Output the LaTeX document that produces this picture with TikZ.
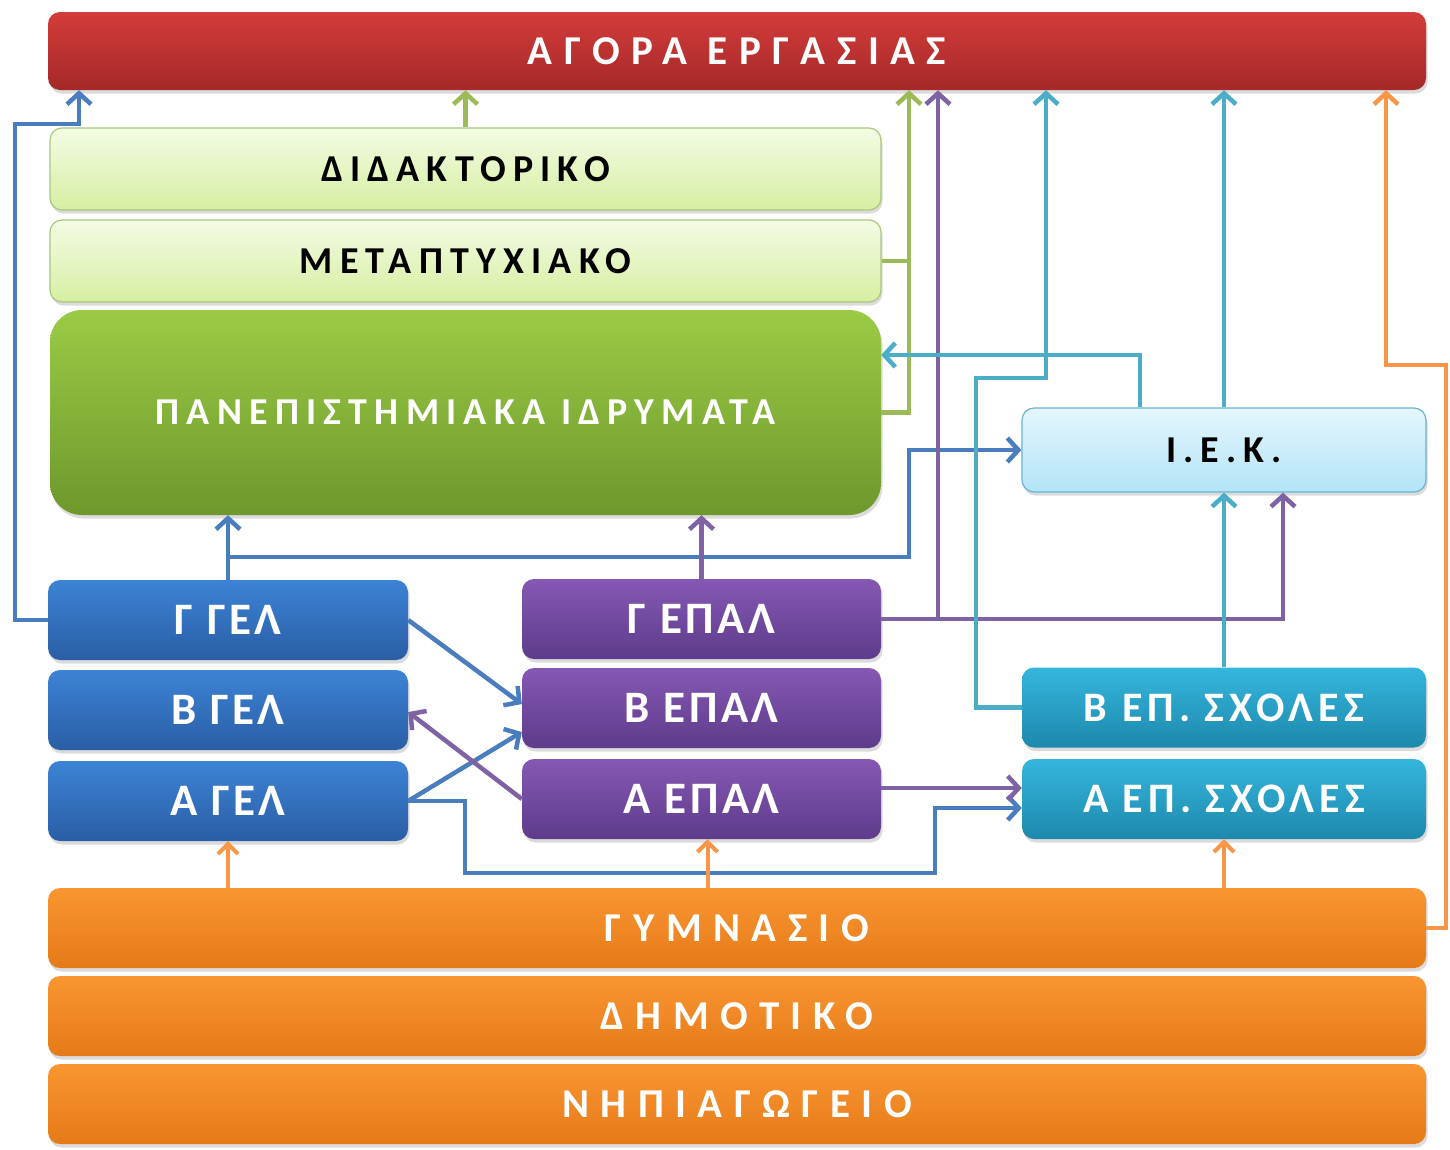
\documentclass[tikz,border=0pt]{standalone}
\usepackage{fontspec}
\setmainfont{Carlito}
\usetikzlibrary{arrows.meta,shadows}

\definecolor{redT}{HTML}{D33C3A}
\definecolor{redB}{HTML}{A52828}
\definecolor{lgT}{HTML}{F4FBE4}
\definecolor{lgB}{HTML}{D6EFA2}
\definecolor{lgD}{HTML}{A9C77C}
\definecolor{gnT}{HTML}{9BCB45}
\definecolor{gnB}{HTML}{6E982C}
\definecolor{lbT}{HTML}{E4F6FD}
\definecolor{lbB}{HTML}{B3E4F7}
\definecolor{lbD}{HTML}{6AB3D2}
\definecolor{blT}{HTML}{3C83D5}
\definecolor{blB}{HTML}{2A5EA5}
\definecolor{puT}{HTML}{8558B3}
\definecolor{puB}{HTML}{5E3B8B}
\definecolor{teT}{HTML}{35B6DD}
\definecolor{teB}{HTML}{1D88AC}
\definecolor{orT}{HTML}{F99632}
\definecolor{orB}{HTML}{E57A18}
\definecolor{cB}{HTML}{4A7DBE}
\definecolor{cG}{HTML}{9BBB59}
\definecolor{cP}{HTML}{7E62A4}
\definecolor{cT}{HTML}{4BADC8}
\definecolor{cO}{HTML}{F79646}

\begin{document}
\begin{tikzpicture}[x=1pt,y=-1pt,
  box/.style={rectangle, rounded corners=12pt, inner sep=0pt, align=center,
    drop shadow={opacity=0.28, shadow xshift=1.5pt, shadow yshift=-3.5pt}},
  redbox/.style={box, top color=redT, bottom color=redB, text=white},
  lgbox/.style={box, top color=lgT, bottom color=lgB, draw=lgD, line width=1.2pt, text=black},
  gnbox/.style={box, rounded corners=32pt, top color=gnT, bottom color=gnB, text=white},
  lbbox/.style={box, top color=lbT, bottom color=lbB, draw=lbD, line width=1.2pt, text=black},
  blbox/.style={box, top color=blT, bottom color=blB, text=white},
  pubox/.style={box, top color=puT, bottom color=puB, text=white},
  tebox/.style={box, top color=teT, bottom color=teB, text=white},
  orbox/.style={box, top color=orT, bottom color=orB, text=white},
  fwide/.style={font=\fontsize{41}{45}\selectfont\bfseries\addfontfeatures{LetterSpace=28}},
  fmid/.style={font=\fontsize{38}{42}\selectfont\bfseries\addfontfeatures{LetterSpace=19}},
  fgel/.style={font=\fontsize{45}{48}\selectfont\bfseries\addfontfeatures{LetterSpace=8}},
  fsx/.style={font=\fontsize{42}{46}\selectfont\bfseries\addfontfeatures{LetterSpace=12}},
  conn/.style={line width=4.5pt, line join=miter,
    -{Straight Barb[length=11pt,width=24pt]}},
  plain/.style={line width=4.5pt, line join=miter},
  small/.style={line width=4pt, -{Straight Barb[length=10pt,width=20pt]}}
]
\useasboundingbox (0,0) rectangle (1450,1149);
\fill[white] (0,0) rectangle (1450,1149);

% ---------- boxes ----------
\node[redbox, fwide, minimum width=1378pt, minimum height=78pt] (agora) at (737,51) {ΑΓΟΡΑ ΕΡΓΑΣΙΑΣ};
\node[lgbox, fmid, minimum width=831pt, minimum height=82pt] (didak) at (465.5,169) {ΔΙΔΑΚΤΟΡΙΚΟ};
\node[lgbox, fmid, minimum width=831pt, minimum height=82pt] (meta) at (465.5,261) {ΜΕΤΑΠΤΥΧΙΑΚΟ};
\node[gnbox, fmid, minimum width=831pt, minimum height=205pt] (panep) at (465.5,412.5) {ΠΑΝΕΠΙΣΤΗΜΙΑΚΑ ΙΔΡΥΜΑΤΑ};
\node[lbbox, fmid, minimum width=404pt, minimum height=84pt] (iek) at (1224,450) {Ι.Ε.Κ.};

\node[blbox, fgel, minimum width=360pt, minimum height=80pt] (ggel) at (228,620) {Γ ΓΕΛ};
\node[blbox, fgel, minimum width=360pt, minimum height=80pt] (bgel) at (228,710) {Β ΓΕΛ};
\node[blbox, fgel, minimum width=360pt, minimum height=80pt] (agel) at (228,801) {Α ΓΕΛ};

\node[pubox, fgel, minimum width=359pt, minimum height=80pt] (gepal) at (701.5,619) {Γ ΕΠΑΛ};
\node[pubox, fgel, minimum width=359pt, minimum height=80pt] (bepal) at (701.5,708) {Β ΕΠΑΛ};
\node[pubox, fgel, minimum width=359pt, minimum height=80pt] (aepal) at (701.5,799) {Α ΕΠΑΛ};

\node[tebox, fsx, minimum width=404pt, minimum height=80pt] (bsx) at (1224,707.5) {Β ΕΠ. ΣΧΟΛΕΣ};
\node[tebox, fsx, minimum width=404pt, minimum height=80pt] (asx) at (1224,799) {Α ΕΠ. ΣΧΟΛΕΣ};

\node[orbox, fwide, minimum width=1378pt, minimum height=80pt] (gym) at (737,928) {ΓΥΜΝΑΣΙΟ};
\node[orbox, fwide, minimum width=1378pt, minimum height=80pt] (dim) at (737,1016) {ΔΗΜΟΤΙΚΟ};
\node[orbox, fwide, minimum width=1378pt, minimum height=80pt] (nip) at (737,1104) {ΝΗΠΙΑΓΩΓΕΙΟ};

% ---------- connectors ----------
% green
\draw[plain, cG] (meta.east) -- (909,0 |- meta.east);
\draw[conn, cG] (panep.east) -| (909,0 |- agora.south);
\draw[conn, cG] (didak.north) -- (didak.north |- agora.south);

% blue
\draw[conn, cB] (ggel.west) -| (15,124) -| (79,0 |- agora.south);
\draw[conn, cB] (ggel.north) -- (ggel.north |- panep.south);
\draw[conn, cB] (ggel.north |- 0,557) -| (909,0 |- iek.west) -- (iek.west);
\draw[conn, cB] (ggel.east) -- ([yshift=4pt]bepal.west);
\draw[conn, cB] (agel.east) -- ([yshift=-24pt]bepal.west);
\draw[conn, cB] (agel.east) -| (465,873) -| (935,808) -- ([yshift=-9pt]asx.west);

% purple
\draw[conn, cP] (gepal.north) -- (gepal.north |- panep.south);
\draw[conn, cP] (gepal.east) -| ([xshift=59pt]iek.south);
\draw[conn, cP] (938,0 |- gepal.east) -- (938,0 |- agora.south);
\draw[conn, cP] (aepal.west) -- ([yshift=-2pt]bgel.east);
\draw[conn, cP] ([yshift=11pt]aepal.east) -- ([yshift=11pt]asx.west);

% teal
\draw[conn, cT] (bsx.west) -| (976,378) -| (1046,0 |- agora.south);
\draw[conn, cT] ([xshift=-84pt]iek.north) |- (panep.east |- 0,355);
\draw[conn, cT] (iek.north) -- (iek.north |- agora.south);
\draw[conn, cT] (bsx.north) -- (iek.south);

% orange
\draw[conn, cO] (gym.east) -| (1446,365) -| (1386,0 |- agora.south);
\draw[small, cO] (gym.north -| agel.south) -- (agel.south);
\draw[small, cO] ([xshift=6pt]gym.north -| aepal.south) -- ([xshift=6pt]aepal.south);
\draw[small, cO] (gym.north -| asx.south) -- (asx.south);
\end{tikzpicture}
\end{document}
